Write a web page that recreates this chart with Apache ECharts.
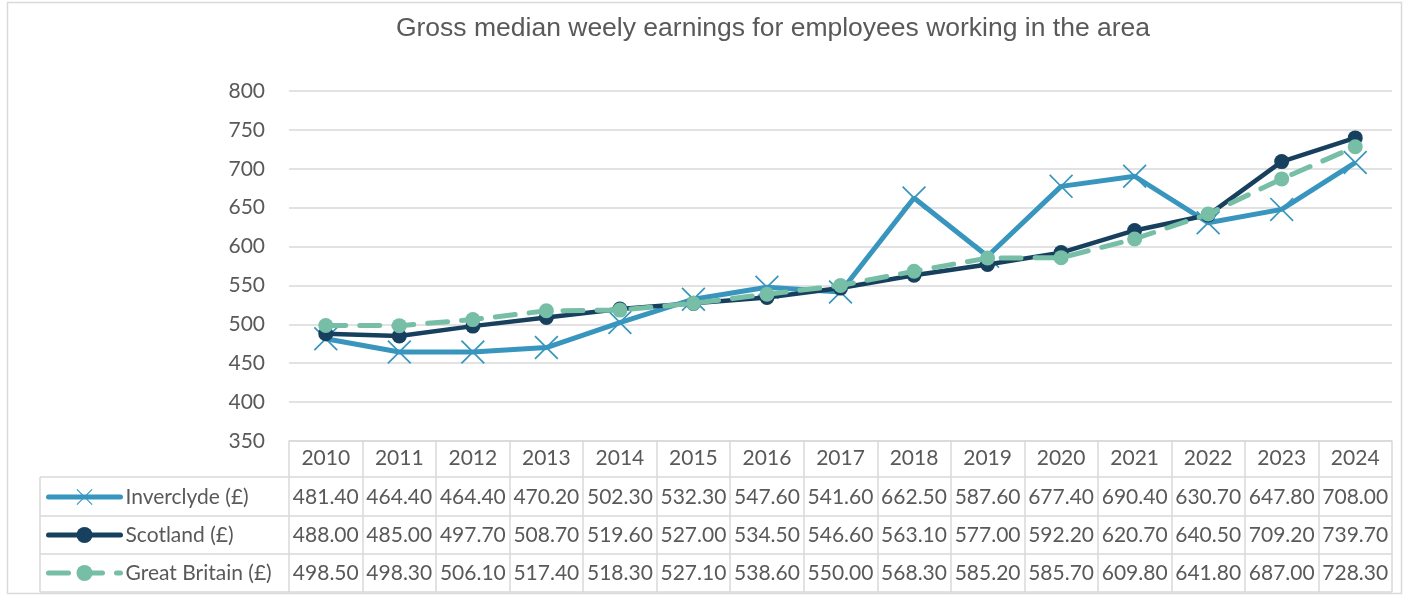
<!DOCTYPE html>
<html>
<head>
<meta charset="utf-8">
<script src="https://cdn.jsdelivr.net/npm/echarts@6/dist/echarts.min.js"></script>
<style>
  html, body { margin: 0; padding: 0; background: #fff; }
  #chart { width: 1407px; height: 596px; }
</style>
</head>
<body>
<div id="chart"></div>
<script>
const years = ['2010', '2011', '2012', '2013', '2014', '2015', '2016', '2017', '2018', '2019', '2020', '2021', '2022', '2023', '2024'];
const inverclyde = [481.4, 464.4, 464.4, 470.2, 502.3, 532.3, 547.6, 541.6, 662.5, 587.6, 677.4, 690.4, 630.7, 647.8, 708.0];
const scotland = [488.0, 485.0, 497.7, 508.7, 519.6, 527.0, 534.5, 546.6, 563.1, 577.0, 592.2, 620.7, 640.5, 709.2, 739.7];
const greatBritain = [498.5, 498.3, 506.1, 517.4, 518.3, 527.1, 538.6, 550.0, 568.3, 585.2, 585.7, 609.8, 641.8, 687.0, 728.3];
const seriesNames = ['Inverclyde (£)', 'Scotland (£)', 'Great Britain (£)'];
const yTicks = { min: 350, max: 800, step: 50 };

const textColor = '#595959';
const gridColor = '#d9d9d9';
const font = 'Lato, "Open Sans", sans-serif';

// plot box and table rows (px)
const plot = { left: 289, right: 15, top: 91, bottom: 155 };
const rowCenters = [497, 535, 573];
const rowLines = [477, 516, 554, 592];
const tableLeft = 40;

const crossPath = 'path://M0,1L1,0L10,9L19,0L20,1L11,10L20,19L19,20L10,11L1,20L0,19L9,10Z';
const colors = ['#3896be', '#17405e', '#76bea6'];

const chart = echarts.init(document.getElementById('chart'));

const legendFor = (name, i) => ({
  data: [name],
  left: 46,
  top: rowCenters[i] - 12,
  padding: 0,
  itemWidth: 72,
  itemHeight: 20,
  lineStyle: { width: 5, cap: 'round' },
  textStyle: { color: textColor, fontSize: 21, fontFamily: font, lineHeight: 24 }
});

const option = {
  animation: false,
  backgroundColor: '#fff',
  title: {
    text: 'Gross median weely earnings for employees working in the area',
    left: 768,
    top: 10,
    textAlign: 'center',
    textStyle: { color: textColor, fontSize: 26.5, fontWeight: 'normal', fontFamily: 'Liberation Sans, Arial, sans-serif' }
  },
  legend: seriesNames.map(legendFor),
  grid: plot,
  xAxis: {
    type: 'category',
    data: years,
    boundaryGap: true,
    axisLine: { lineStyle: { color: gridColor, width: 1.5 } },
    axisTick: { show: true, interval: 0, length: 151, lineStyle: { color: gridColor, width: 1.5 } },
    axisLabel: { color: textColor, fontSize: 21, fontFamily: font, margin: 7, interval: 0 }
  },
  yAxis: {
    type: 'value',
    min: yTicks.min,
    max: yTicks.max,
    interval: yTicks.step,
    axisLine: { show: false },
    axisTick: { show: false },
    axisLabel: { color: textColor, fontSize: 21, fontFamily: font, margin: 24 },
    splitLine: { lineStyle: { color: gridColor, width: 1.5 } }
  },
  series: [
    {
      name: seriesNames[0],
      type: 'line',
      data: inverclyde,
      symbol: crossPath,
      symbolSize: 24,
      itemStyle: { color: colors[0] },
      lineStyle: { color: colors[0], width: 5 },
      z: 2
    },
    {
      name: seriesNames[1],
      type: 'line',
      data: scotland,
      symbol: 'circle',
      symbolSize: 15,
      itemStyle: { color: colors[1] },
      lineStyle: { color: colors[1], width: 4.5 },
      z: 3
    },
    {
      name: seriesNames[2],
      type: 'line',
      data: greatBritain,
      symbol: 'circle',
      symbolSize: 15,
      itemStyle: { color: colors[2] },
      lineStyle: { color: colors[2], width: 5, type: [20, 14], cap: 'round' },
      z: 4
    }
  ]
};

chart.setOption(option);

// data table under the axis, placed with the axis scale
const allRows = [inverclyde, scotland, greatBritain];
const plotRight = 1407 - plot.right;
const graphics = [
  { type: 'rect', shape: { x: 7.5, y: 2.5, width: 1394, height: 591 }, style: { fill: 'none', stroke: gridColor, lineWidth: 1.5 }, silent: true },
  { type: 'line', shape: { x1: tableLeft, y1: rowLines[0], x2: tableLeft, y2: rowLines[3] }, style: { stroke: gridColor, lineWidth: 1.5 } }
];
rowLines.forEach(y => {
  graphics.push({ type: 'line', shape: { x1: tableLeft, y1: y, x2: plotRight, y2: y }, style: { stroke: gridColor, lineWidth: 1.5 } });
});
allRows.forEach((vals, r) => {
  vals.forEach((v, i) => {
    const x = chart.convertToPixel({ xAxisIndex: 0 }, years[i]);
    graphics.push({
      type: 'text',
      x: x,
      y: rowCenters[r],
      style: { text: v.toFixed(2), fill: textColor, fontSize: 21, fontFamily: font, align: 'center', verticalAlign: 'middle' },
      silent: true
    });
  });
});
chart.setOption({ graphic: graphics });
</script>
</body>
</html>
